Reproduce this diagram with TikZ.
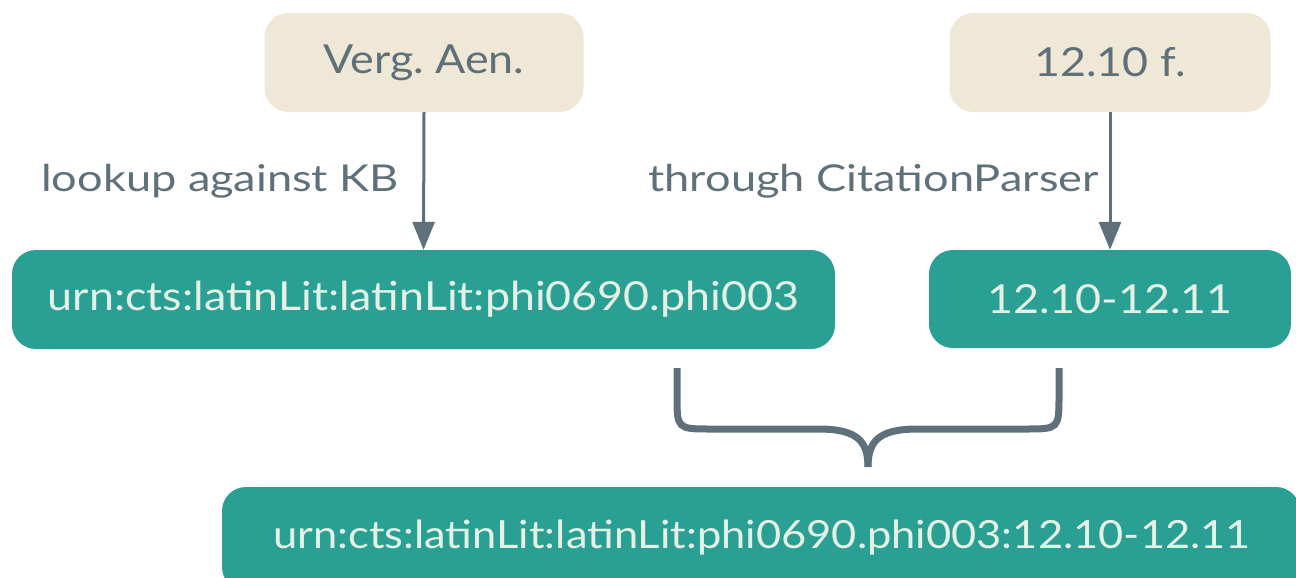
\documentclass[tikz,border=0pt]{standalone}
\usepackage{fontspec}
\setmainfont{Lato}
\newfontfamily\lblfont[FakeStretch=1.22]{Lato}
\newfontfamily\boxfont[FakeStretch=1.12]{Lato}
\usetikzlibrary{arrows.meta}
\definecolor{tealbox}{HTML}{2A9F93}
\definecolor{beigebox}{HTML}{EFE8D7}
\definecolor{slate}{HTML}{5E7079}
\definecolor{mint}{HTML}{E4F1E4}
\frenchspacing
\tikzset{
  srcbox/.style={fill=beigebox, rounded corners=24pt, text=slate, font=\boxfont\fontsize{40}{46}\selectfont, inner sep=0pt, anchor=center},
  tgtbox/.style={fill=tealbox, rounded corners=24pt, text=mint, font=\boxfont\fontsize{40}{46}\selectfont, inner sep=0pt, anchor=center},
  lbl/.style={text=slate, font=\lblfont\fontsize{37}{42}\selectfont, inner sep=0pt, anchor=east},
  conn/.style={draw=slate, line width=3pt, -{Triangle[length=28pt,width=22pt]}},
  bracepath/.style={draw=slate, line width=7pt}
}
\begin{document}
\begin{tikzpicture}[x=1pt,y=-1pt]
\useasboundingbox (0,0) rectangle (1296,578);
\clip (0,0) rectangle (1296,578);
\node[srcbox, minimum width=319pt, minimum height=99pt] (aen) at (424,62.5) {Verg. Aen.};
\node[srcbox, minimum width=321pt, minimum height=99pt] (cit) at (1110,62.5) {12.10 f.};
\node[tgtbox, minimum width=823pt, minimum height=99pt] (urn) at (423.5,299.5) {urn:cts:latinLit:latinLit:phi0690.phi003};
\node[tgtbox, minimum width=362pt, minimum height=98pt] (rng) at (1110,299) {12.10-12.11};
\node[tgtbox, minimum width=1078pt, minimum height=104pt] (full) at (761,539) {};
\node[text=mint, font=\boxfont\fontsize{38.8}{44}\selectfont, inner sep=0pt] (fulltext) at (762,538) {urn:cts:latinLit:latinLit:phi0690.phi003:12.10-12.11};
\draw[conn] (aen.south) -- (urn.north);
\draw[conn] (cit.south) -- (rng.north);
\node[lbl] (l1) at (399,181) {lookup against KB};
\node[lbl] (l2) at (1099,181) {through CitationParser};
\coordinate (bl) at (677,368);
\coordinate (br) at (1059,368);
\coordinate (tip) at (868,467);
\draw[bracepath] (bl) -- (677,395) .. controls (677,429) .. (711,429) -- (818,429) .. controls (856,429) and (868,440) .. (tip);
\draw[bracepath] (br) -- (1059,395) .. controls (1059,429) .. (1025,429) -- (918,429) .. controls (880,429) and (868,440) .. (tip);
\end{tikzpicture}
\end{document}
